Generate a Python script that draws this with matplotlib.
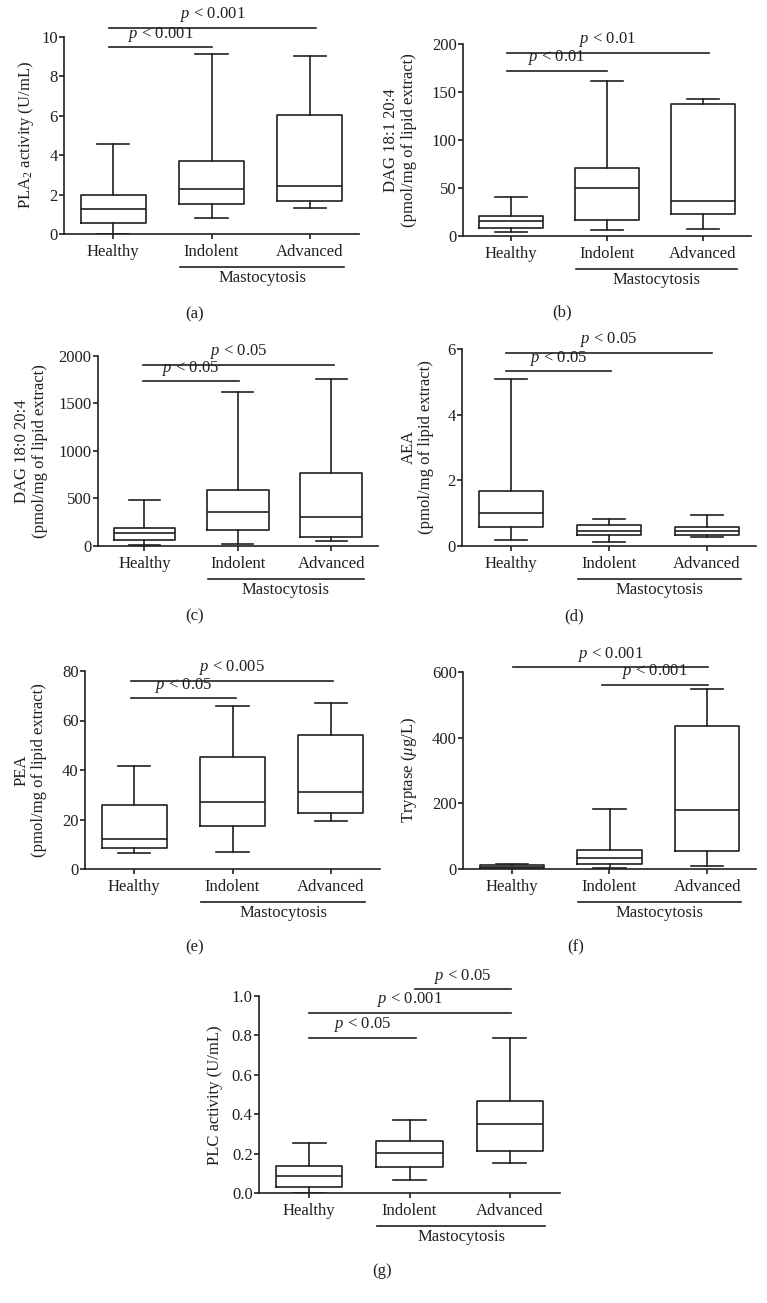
import matplotlib
matplotlib.use('Agg')
import matplotlib.pyplot as plt
from matplotlib import transforms

plt.rcParams['font.family'] = ['Liberation Serif', 'DejaVu Serif']
plt.rcParams['mathtext.fontset'] = 'custom'
plt.rcParams['mathtext.rm'] = 'Liberation Serif'
plt.rcParams['mathtext.it'] = 'Liberation Serif:italic'

groups = ['Healthy', 'Indolent', 'Advanced']

# box stats: [min, q1, median, q3, max] for Healthy, Indolent, Advanced
pla2 = [[0.0, 0.56, 1.27, 2.00, 4.55], [0.83, 1.54, 2.30, 3.72, 9.12], [1.30, 1.66, 2.42, 6.02, 9.04]]
dag181 = [[3.5, 7.6, 15.3, 20.8, 40.3], [5.9, 16.7, 50.0, 70.8, 161.5], [7.3, 22.2, 36.5, 137.5, 142.0]]
dag180 = [[14, 60, 133, 193, 480], [18, 172, 361, 586, 1617], [56, 95, 305, 765, 1758]]
aea = [[0.18, 0.58, 0.99, 1.67, 5.08], [0.12, 0.35, 0.45, 0.63, 0.82], [0.27, 0.35, 0.45, 0.58, 0.95]]
pea = [[6.4, 8.6, 12.3, 25.9, 41.8], [6.8, 17.2, 27.0, 45.1, 65.7], [19.3, 22.7, 31.2, 54.1, 67.2]]
tryptase = [[1, 3, 7, 11, 14], [2, 14, 32, 59, 182], [8, 55, 179, 435, 548]]
plc = [[0.0, 0.032, 0.088, 0.137, 0.255], [0.066, 0.132, 0.203, 0.264, 0.373], [0.152, 0.215, 0.350, 0.466, 0.789]]

ticks_pla2 = [0, 2, 4, 6, 8, 10]
ticks_dag181 = [0, 50, 100, 150, 200]
ticks_dag180 = [0, 500, 1000, 1500, 2000]
ticks_aea = [0, 2, 4, 6]
ticks_pea = [0, 20, 40, 60, 80]
ticks_tryptase = [0, 200, 400, 600]
ticks_plc = [0.0, 0.2, 0.4, 0.6, 0.8, 1.0]

W, H = 767, 1303
ink = '#231f20'

# panel: data, ticks, tick format, ylabel, ylabel pos, axes box px (l, r, top, bottom),
#        panel letter pos, significance bars (x0, x1, y, text)
panels = [
    (pla2, ticks_pla2, '{:g}', 'PLA$_2$ activity (U/mL)', (26, 135),
     (64, 359, 37, 234), '(a)', (195, 314),
     [(-0.04, 1.0, 9.49, '< 0.001'), (-0.04, 2.06, 10.46, '< 0.001')]),
    (dag181, ticks_dag181, '{:g}', 'DAG 18:1 20:4\n(pmol/mg of lipid extract)', (400, 140),
     (463, 751, 43.7, 235.7), '(b)', (562, 312),
     [(-0.04, 1.0, 171.9, '< 0.01'), (-0.04, 2.06, 190.6, '< 0.01')]),
    (dag180, ticks_dag180, '{:g}', 'DAG 18:0 20:4\n(pmol/mg of lipid extract)', (31, 451),
     (97.7, 378, 356, 546), '(c)', (195, 616),
     [(-0.01, 1.01, 1733, '< 0.05'), (-0.01, 2.03, 1909, '< 0.05')]),
    (aea, ticks_aea, '{:g}', 'AEA\n(pmol/mg of lipid extract)', (417, 447),
     (462, 756, 349, 546), '(d)', (574, 616),
     [(-0.05, 1.02, 5.32, '< 0.05'), (-0.05, 2.05, 5.89, '< 0.05')]),
    (pea, ticks_pea, '{:g}', 'PEA\n(pmol/mg of lipid extract)', (30, 770),
     (85, 380, 671, 869), '(e)', (195, 947),
     [(-0.03, 1.04, 69.1, '< 0.05'), (-0.03, 2.02, 76.1, '< 0.005')]),
    (tryptase, ticks_tryptase, '{:g}', 'Tryptase ($\\mu$g/L)', (409, 770),
     (463, 756, 672, 869), '(f)', (576, 947),
     [(0.01, 2.01, 614, '< 0.001'), (0.92, 2.01, 561, '< 0.001')]),
    (plc, ticks_plc, '{:.1f}', 'PLC activity (U/mL)', (215, 1095),
     (259, 560, 996, 1193), '(g)', (382, 1271),
     [(0.0, 1.06, 0.789, '< 0.05'), (0.0, 2.01, 0.916, '< 0.001'), (1.05, 2.01, 1.035, '< 0.05')]),
]

fig = plt.figure(figsize=(W / 100, H / 100), dpi=100)

for data, ticks, fmt, ylabel, ylpos, box, letter, letpos, bars in panels:
    l, r, t, b = box
    ax = fig.add_axes([l / W, 1 - b / H, (r - l) / W, (b - t) / H])

    stats = []
    for name, s in zip(groups, data):
        stats.append({'label': name, 'whislo': s[0], 'q1': s[1], 'med': s[2],
                      'q3': s[3], 'whishi': s[4]})
    line = dict(color=ink, linewidth=1.2)
    ax.bxp(stats, positions=[0, 1, 2], widths=0.66, capwidths=0.33, showfliers=False,
           boxprops=line, whiskerprops=line, capprops=line, medianprops=line)

    ax.set_xlim(-0.5, 2.5)
    ax.set_ylim(ticks[0], ticks[-1])
    ax.set_yticks(ticks)
    ax.set_yticklabels([fmt.format(v) for v in ticks])
    ax.set_xticks([0, 1, 2])
    ax.set_xticklabels(groups)
    for side in ['top', 'right']:
        ax.spines[side].set_visible(False)
    for side in ['left', 'bottom']:
        ax.spines[side].set_color(ink)
        ax.spines[side].set_linewidth(1.2)
    ax.tick_params(axis='y', length=3.5, width=1.2, pad=1, labelsize=12, colors=ink)
    ax.tick_params(axis='x', length=3.5, width=1.2, pad=4, labelsize=12, colors=ink)

    # significance bars
    for x0, x1, y, txt in bars:
        ax.plot([x0, x1], [y, y], color=ink, linewidth=1.2, clip_on=False)
        ax.annotate('$p$ ' + txt, xy=((x0 + x1) / 2, y), xytext=(0, 2.5),
                    textcoords='offset points', ha='center', va='bottom',
                    fontsize=12, color=ink, annotation_clip=False)

    # Mastocytosis group bracket
    tr_line = transforms.offset_copy(ax.get_xaxis_transform(), fig=fig, y=-33, units='dots')
    ax.plot([0.68, 2.35], [0, 0], color=ink, linewidth=1.2, transform=tr_line, clip_on=False)
    tr_txt = transforms.offset_copy(ax.get_xaxis_transform(), fig=fig, y=-44, units='dots')
    ax.text(1.515, 0, 'Mastocytosis', transform=tr_txt, ha='center', va='center',
            fontsize=12, color=ink)

    fig.text(ylpos[0] / W, 1 - ylpos[1] / H, ylabel, rotation=90, ha='center', va='center',
             fontsize=12, color=ink, linespacing=1.1, multialignment='center')
    fig.text(letpos[0] / W, 1 - letpos[1] / H, letter, ha='center', va='center',
             fontsize=12, color=ink)

fig.savefig('out.png', dpi=100, facecolor='white')
